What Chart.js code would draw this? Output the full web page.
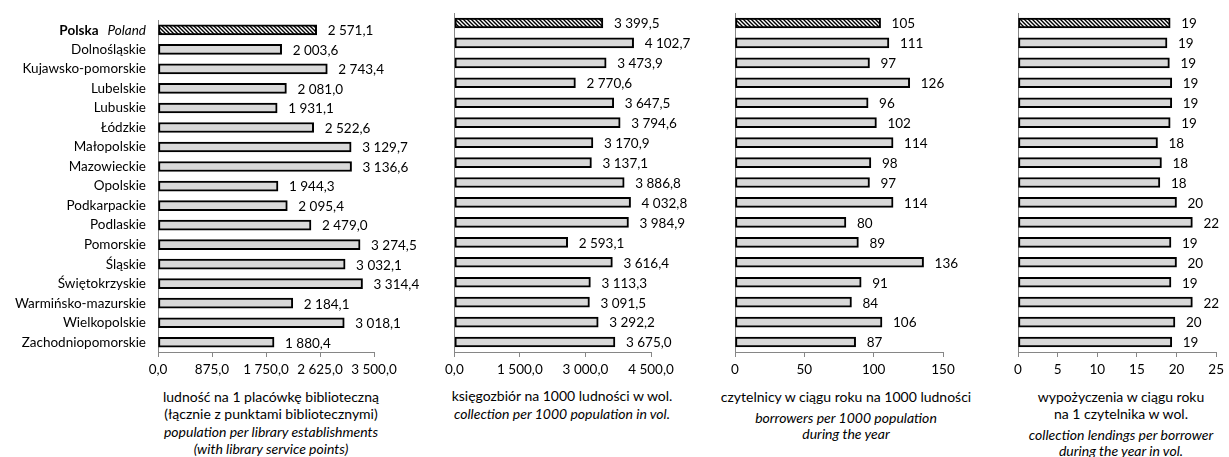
<!DOCTYPE html>
<html>
<head>
<meta charset="utf-8">
<script src="https://cdn.jsdelivr.net/npm/chart.js@4"></script>
<style>
  body { margin: 0; background: #fff; }
  #wrap { position: relative; width: 1229px; height: 457px; font-family: Lato, sans-serif; color: #000; }
  .box { position: absolute; top: 0; height: 380px; }
  .t { position: absolute; width: 340px; text-align: center; font-size: 14px; line-height: 16px; white-space: nowrap; }
  .i { font-style: italic; }
</style>
</head>
<body>
<div id="wrap">
  <div class="box" style="left:0;width:440px"><canvas id="c1"></canvas></div>
  <div class="box" style="left:440px;width:280px"><canvas id="c2"></canvas></div>
  <div class="box" style="left:720px;width:290px"><canvas id="c3"></canvas></div>
  <div class="box" style="left:1005px;width:224px"><canvas id="c4"></canvas></div>

  <div class="t" style="left:101px;top:389px">ludność na 1 placówkę biblioteczną</div>
  <div class="t" style="left:101px;top:406px">(łącznie z punktami bibliotecznymi)</div>
  <div class="t i" style="left:101px;top:424px">population per library establishments</div>
  <div class="t i" style="left:101px;top:441px">(with library service points)</div>

  <div class="t" style="left:392px;top:388px">księgozbiór na 1000 ludności w wol.</div>
  <div class="t i" style="left:392px;top:406px">collection per 1000 population in vol.</div>

  <div class="t" style="left:676px;top:389px">czytelnicy w ciągu roku na 1000 ludności</div>
  <div class="t i" style="left:676px;top:410px">borrowers per 1000 population</div>
  <div class="t i" style="left:676px;top:426px">during the year</div>

  <div class="t" style="left:951px;top:389px">wypożyczenia w ciągu roku</div>
  <div class="t" style="left:951px;top:406px">na 1 czytelnika w wol.</div>
  <div class="t i" style="left:951px;top:427px">collection lendings per borrower</div>
  <div class="t i" style="left:951px;top:443px">during the year in vol.</div>
</div>
<script>
const regions = ['Polska', 'Dolnośląskie', 'Kujawsko-pomorskie', 'Lubelskie', 'Lubuskie', 'Łódzkie',
  'Małopolskie', 'Mazowieckie', 'Opolskie', 'Podkarpackie', 'Podlaskie', 'Pomorskie', 'Śląskie',
  'Świętokrzyskie', 'Warmińsko-mazurskie', 'Wielkopolskie', 'Zachodniopomorskie'];
const populationPerLibrary = [2571.1, 2003.6, 2743.4, 2081.0, 1931.1, 2522.6, 3129.7, 3136.6, 1944.3,
  2095.4, 2479.0, 3274.5, 3032.1, 3314.4, 2184.1, 3018.1, 1880.4];
const collectionPer1000 = [3399.5, 4102.7, 3473.9, 2770.6, 3647.5, 3794.6, 3170.9, 3137.1, 3886.8,
  4032.8, 3984.9, 2593.1, 3616.4, 3113.3, 3091.5, 3292.2, 3675.0];
const borrowersPer1000 = [105, 111, 97, 126, 96, 102, 114, 98, 97, 114, 80, 89, 136, 91, 84, 106, 87];
const lendingsPerBorrower = [19.2, 18.8, 19.1, 19.4, 19.4, 19.2, 17.6, 18.1, 17.9, 20.0, 22.0, 19.3,
  20.0, 19.3, 22.0, 19.8, 19.4];

const FONT = 'Lato, sans-serif';
const FSIZE = 13.5;
const AXIS = '#868686';
const FILL = '#d9d9d9';

// polish number format: "2 571,1"
const fmt = (v, d) => {
  const [i, f] = v.toFixed(d).split('.');
  const ip = i.replace(/\B(?=(\d{3})+(?!\d))/g, ' ');
  return f ? ip + ',' + f : ip;
};

// hatched pattern for Polska bar
const hatch = (() => {
  const c = document.createElement('canvas');
  c.width = 4; c.height = 4;
  const g = c.getContext('2d');
  g.fillStyle = '#fff';
  g.fillRect(0, 0, 4, 4);
  g.strokeStyle = '#000';
  g.lineWidth = 1.4;
  g.beginPath();
  g.moveTo(-1, -1); g.lineTo(5, 5);
  g.moveTo(3, -1); g.lineTo(5, 1);
  g.moveTo(-1, 3); g.lineTo(1, 5);
  g.stroke();
  return g.createPattern(c, 'repeat');
})();

const valueLabels = {
  id: 'valueLabels',
  afterDatasetsDraw(chart, args, opts) {
    const ctx = chart.ctx;
    const ds = chart.data.datasets[0];
    ctx.save();
    ctx.font = FSIZE + 'px ' + FONT;
    ctx.fillStyle = '#000';
    ctx.textAlign = 'left';
    ctx.textBaseline = 'middle';
    chart.getDatasetMeta(0).data.forEach((bar, i) => {
      ctx.fillText(fmt(ds.data[i], opts.dec), bar.x + 11, bar.y + 1);
    });
    ctx.restore();
  }
};

const polandLabel = {
  id: 'polandLabel',
  afterDraw(chart) {
    if (!chart.options.plugins.polandLabel.show) return;
    const ctx = chart.ctx;
    const y = chart.scales.y.getPixelForValue(0) + 1;
    const right = 146;
    ctx.save();
    ctx.textBaseline = 'middle';
    ctx.textAlign = 'right';
    ctx.fillStyle = '#000';
    ctx.font = 'italic ' + FSIZE + 'px ' + FONT;
    const w = ctx.measureText('Poland').width;
    ctx.fillText('Poland', right, y);
    ctx.font = 'bold ' + FSIZE + 'px ' + FONT;
    ctx.fillText('Polska', right - w - 9, y);
    ctx.restore();
  }
};

function makeChart(id, values, cfg) {
  return new Chart(document.getElementById(id), {
    type: 'bar',
    data: {
      labels: regions,
      datasets: [{
        data: values,
        backgroundColor: values.map((v, i) => i === 0 ? hatch : FILL),
        borderColor: '#000',
        borderWidth: 2,
        borderSkipped: false,
        barThickness: 10,
      }],
    },
    options: {
      indexAxis: 'y',
      responsive: true,
      maintainAspectRatio: false,
      animation: false,
      layout: { padding: { top: 13, right: cfg.padRight, left: 0, bottom: 0 } },
      plugins: {
        legend: { display: false },
        tooltip: { enabled: false },
        valueLabels: { dec: cfg.labelDec },
        polandLabel: { show: cfg.showY },
      },
      scales: {
        x: {
          min: 0,
          max: cfg.max,
          afterFit: (s) => { s.height = 28; },
          afterBuildTicks: (s) => {
            const t = [];
            for (let v = 0; v <= cfg.max + 1e-9; v += cfg.step) t.push({ value: v });
            s.ticks = t;
          },
          grid: { drawOnChartArea: false, drawTicks: true, tickLength: 5, color: AXIS },
          border: { color: AXIS, width: 1 },
          ticks: {
            color: '#000',
            font: { family: FONT, size: FSIZE },
            padding: 5,
            maxRotation: 0,
            autoSkip: false,
            callback: (v) => fmt(v, cfg.tickDec),
          },
        },
        y: {
          afterFit: (s) => { s.width = cfg.padLeft; },
          grid: { drawOnChartArea: false, drawTicks: false },
          border: { color: AXIS, width: 1 },
          ticks: {
            display: cfg.showY,
            color: '#000',
            font: { family: FONT, size: FSIZE },
            padding: 12,
            autoSkip: false,
            callback: (v, i) => i === 0 ? '' : regions[i],
          },
        },
      },
    },
    plugins: [valueLabels, polandLabel],
  });
}

makeChart('c1', populationPerLibrary, { max: 3500, step: 875, tickDec: 1, labelDec: 1, padLeft: 158, padRight: 66, showY: true });
makeChart('c2', collectionPer1000, { max: 4500, step: 1500, tickDec: 1, labelDec: 1, padLeft: 13, padRight: 69, showY: false });
makeChart('c3', borrowersPer1000, { max: 150, step: 50, tickDec: 0, labelDec: 0, padLeft: 15, padRight: 67, showY: false });
makeChart('c4', lendingsPerBorrower, { max: 25, step: 5, tickDec: 0, labelDec: 0, padLeft: 13, padRight: 8, showY: false });
</script>
</body>
</html>
